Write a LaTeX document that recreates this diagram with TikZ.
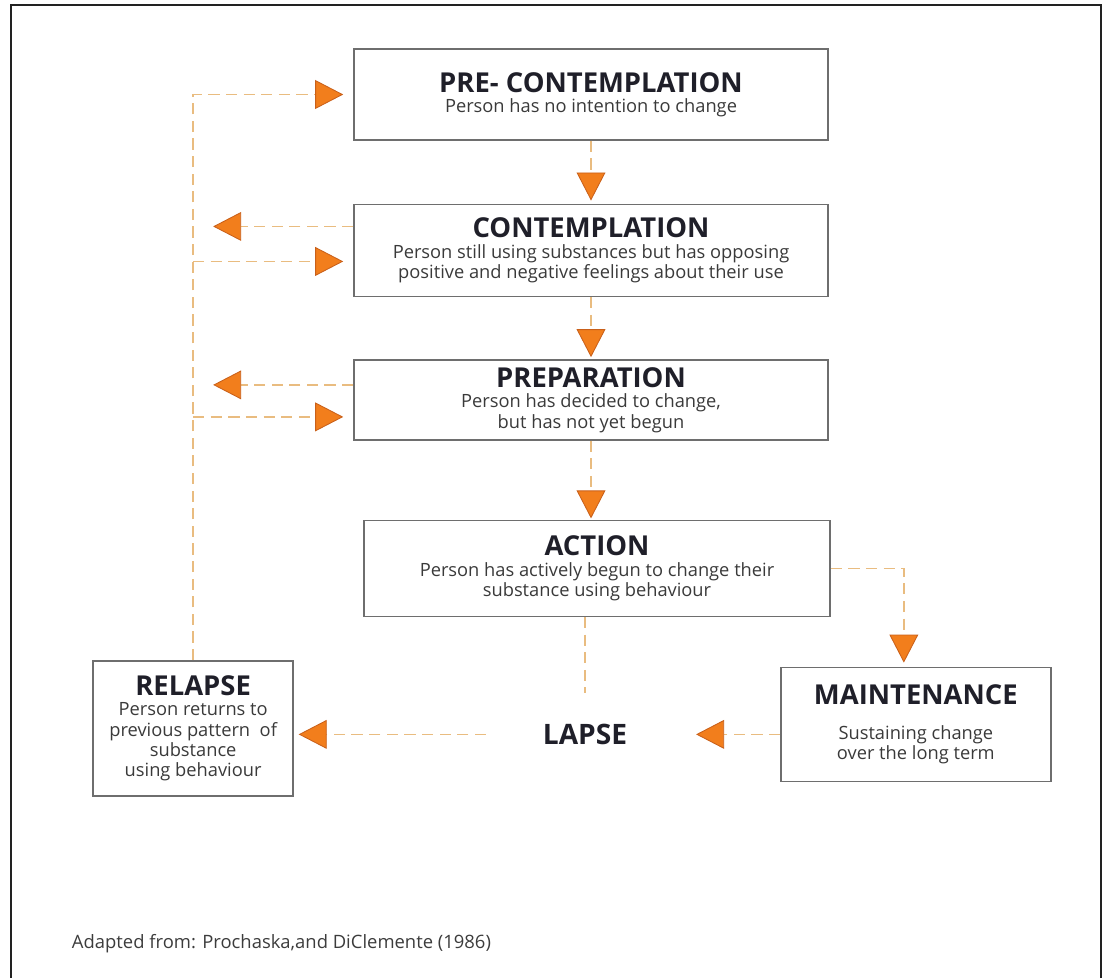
\documentclass[tikz,border=0pt]{standalone}
\usepackage{fontspec}
\setmainfont{Open Sans}
\usepackage{xcolor}
\usepackage{tikz}
\usetikzlibrary{arrows.meta, positioning}

\definecolor{frameink}{HTML}{222222}
\definecolor{boxline}{HTML}{6E6E6E}
\definecolor{headink}{HTML}{1F1F29}
\definecolor{bodyink}{HTML}{3A3A3A}
\definecolor{dashline}{HTML}{E9BC80}
\definecolor{tipfill}{HTML}{F27E1C}
\definecolor{tipedge}{HTML}{C9601A}
\definecolor{footink}{HTML}{3C3C3C}

\newcommand{\stagehead}[1]{{\fontsize{19.5}{22}\selectfont\bfseries\color{headink}#1}}

\begin{document}
\begin{tikzpicture}[
    x=0.025cm, y=-0.025cm,
    stage/.style={rectangle, draw=boxline, line width=1pt, minimum width=11.85cm, minimum height=2.3cm, align=center, font=\fontsize{13}{14.5}\selectfont, text=bodyink},
    flow/.style={draw=dashline, line width=1.1pt, dash pattern=on 0.28cm off 0.16cm, -{Triangle[length=0.7cm, width=0.72cm, fill=tipfill, color=tipedge, line width=0.6pt]}},
    link/.style={draw=dashline, line width=1.1pt, dash pattern=on 0.28cm off 0.16cm},
  ]

  \useasboundingbox (0,0) rectangle (1105,978);
  \draw[line width=1.5pt, draw=frameink] (11,978) -- (11,5) -- (1101,5) -- (1101,978);

  % Stages of change
  \node[stage, minimum height=2.275cm] (pre) at (591,94.5) {\stagehead{PRE- CONTEMPLATION}\\ Person has no intention to change};
  \node[stage, below=1.575cm of pre] (contemp) {\stagehead{CONTEMPLATION}\\ Person still using substances but has opposing\\ positive and negative feelings about their use};
  \node[stage, below=1.55cm of contemp, minimum height=2cm] (prep) {\stagehead{PREPARATION}\\ Person has decided to change,\\ but has not yet begun};
  \node[stage, below=1.975cm of prep, xshift=0.15cm, minimum width=11.65cm, minimum height=2.4cm] (action) {\stagehead{ACTION}\\ Person has actively begun to change their\\ substance using behaviour};

  % Lapse and the two ways out of it
  \node[below=2.55cm of action, xshift=-0.3cm, font=\fontsize{20}{22}\selectfont\bfseries, text=headink] (lapse) {LAPSE};
  \node[stage, right=3.7cm of lapse, yshift=0.25cm, minimum width=6.75cm, minimum height=2.85cm] (maint) {\stagehead{MAINTENANCE}\\[10pt] Sustaining change\\ over the long term};
  \node[stage, left=6.1cm of lapse, yshift=0.15cm, minimum width=5cm, minimum height=3.375cm] (relapse) {\stagehead{RELAPSE}\\ Person returns to\\ previous pattern\ \ of\\ substance\\ using behaviour};

  \coordinate (spine) at (relapse.north);

  % Forward arrows
  \draw[flow, shorten >=0.08cm] (pre) -- (contemp);
  \draw[flow, shorten >=0.05cm] (contemp) -- (prep);
  \draw[flow, shorten >=0.03cm] (prep) -- (action.north -| prep);
  \draw[flow, shorten >=0.1cm] (action.east) -| ([xshift=-0.3cm]maint.north);

  % Falling back
  \draw[link, shorten >=0.65cm] (action.south -| lapse) -- (lapse);
  \draw[flow, shorten >=1.6cm] (maint.west |- lapse) -- (lapse);
  \draw[flow, shorten <=1.3cm, shorten >=0.12cm] (lapse) -- (lapse -| relapse.east);

  % Recycling loop on the left
  \draw[flow, shorten >=0.25cm] (spine) |- (pre.west);
  \draw[flow, shorten >=0.5cm] ([yshift=0.6cm]contemp.west) -- ([yshift=0.6cm]contemp.west -| spine);
  \draw[flow, shorten >=0.25cm] ([yshift=-0.275cm]contemp.west -| spine) -- ([yshift=-0.275cm]contemp.west);
  \draw[flow, shorten >=0.5cm] ([yshift=0.375cm]prep.west) -- ([yshift=0.375cm]prep.west -| spine);
  \draw[flow, shorten >=0.25cm] ([yshift=-0.425cm]prep.west -| spine) -- ([yshift=-0.425cm]prep.west);

  % Source
  \node[anchor=base west, font=\fontsize{13.1}{15}\selectfont, text=footink] (credit) at (67,948) {Adapted from: Prochaska,and DiClemente (1986)};

\end{tikzpicture}
\end{document}
